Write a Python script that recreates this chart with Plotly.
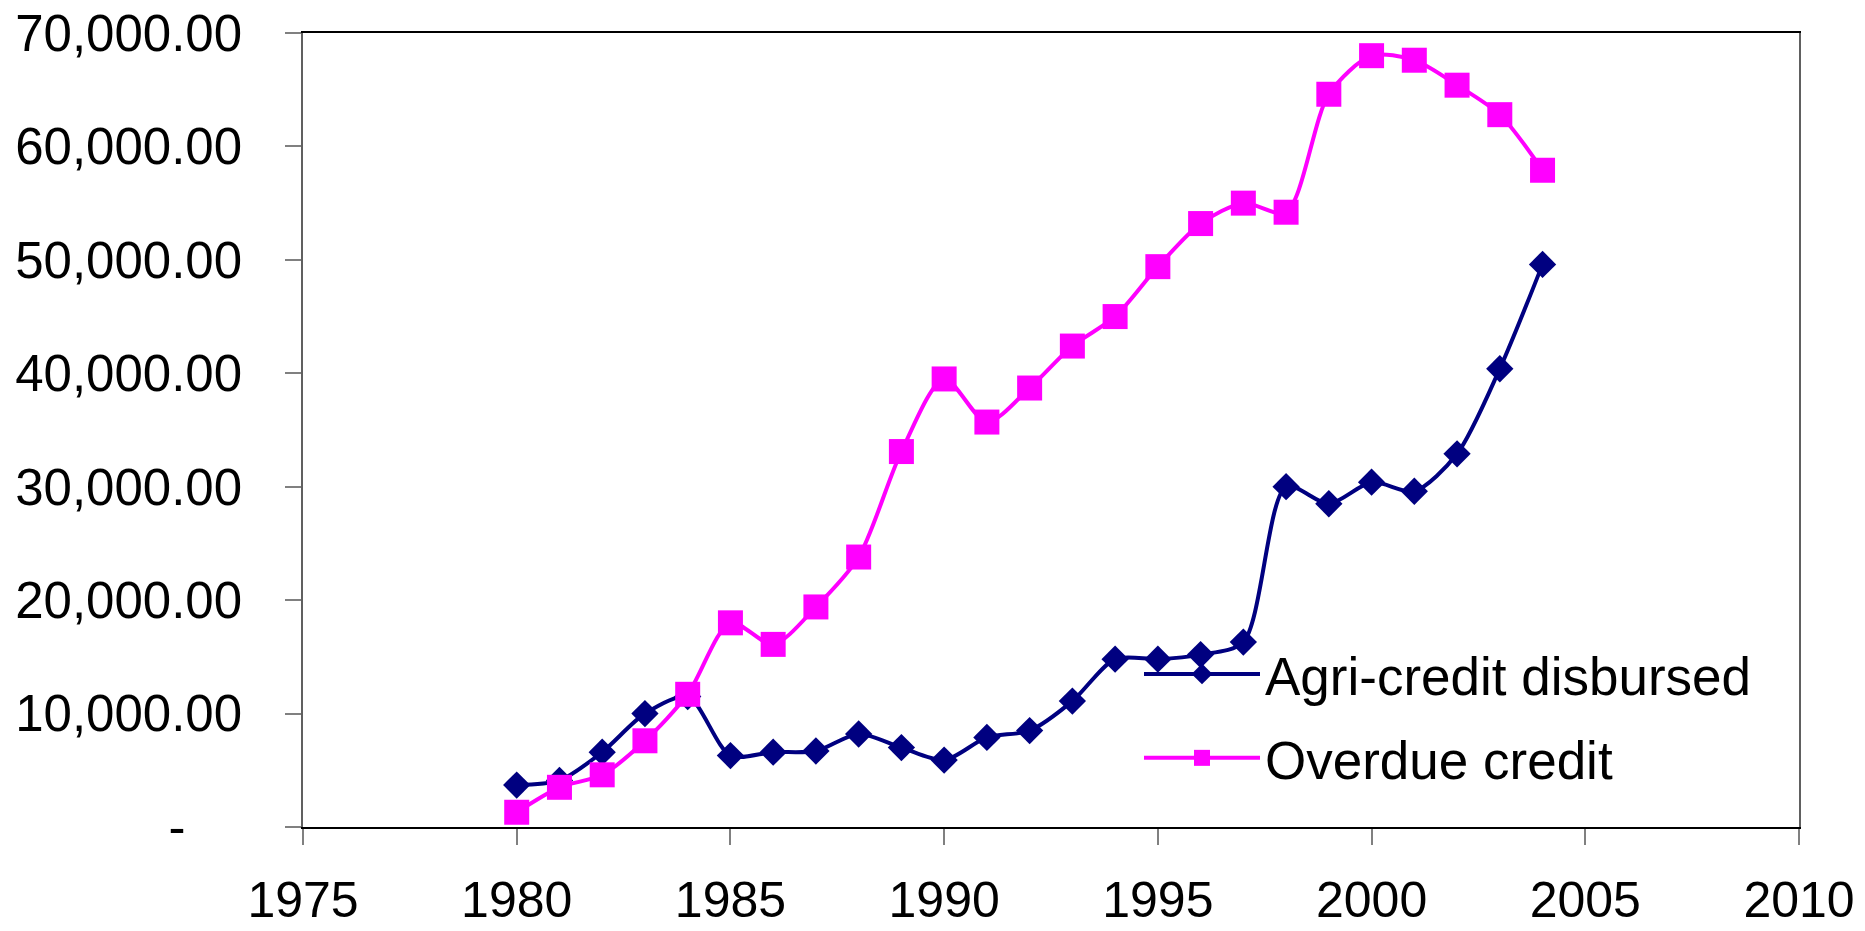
import plotly.graph_objects as go

years = list(range(1980, 2005))
agri_credit = [3700, 4100, 6600, 10000, 11500, 6300, 6600, 6700, 8200, 7000,
               5900, 7900, 8500, 11100, 14800, 14800, 15200, 16300, 30000, 28500,
               30400, 29600, 32900, 40400, 49600]
overdue_credit = [1300, 3500, 4600, 7600, 11700, 18000, 16100, 19400, 23800, 33100,
                  39500, 35700, 38700, 42400, 45000, 49400, 53200, 55000, 54200, 64600,
                  68000, 67600, 65400, 62800, 57900]

y_tickvals = [0, 10000, 20000, 30000, 40000, 50000, 60000, 70000]
y_ticktext = ["-\u00a0\u00a0\u00a0\u00a0", "10,000.00", "20,000.00", "30,000.00",
              "40,000.00", "50,000.00", "60,000.00", "70,000.00"]
x_tickvals = [1975, 1980, 1985, 1990, 1995, 2000, 2005, 2010]

FONT = "Arial, Liberation Sans, sans-serif"

fig = go.Figure()
fig.add_trace(go.Scatter(
    x=years, y=agri_credit, name="Agri-credit disbursed", legendgroup="a",
    mode="lines+markers",
    line=dict(color="#000080", width=4, shape="spline", smoothing=0.8),
    marker=dict(symbol="diamond", size=21, color="#000080"),
))
fig.add_trace(go.Scatter(
    x=years, y=overdue_credit, name="Overdue credit", legendgroup="b",
    mode="lines+markers",
    line=dict(color="#FF00FF", width=4, shape="spline", smoothing=0.8),
    marker=dict(symbol="square", size=25, color="#FF00FF"),
))

# page body has an 8px margin; figure is sized so the plot area lands at
# x 303..1799, y 33..827 in the 1865x931 window
fig.update_layout(
    width=1857, height=923,
    margin=dict(l=295, r=66, t=25, b=104, autoexpand=False),
    paper_bgcolor="white", plot_bgcolor="white",
    font=dict(family=FONT, size=50, color="black"),
    showlegend=True,
    legend=dict(
        x=(1139 - 303) / 1496, y=(827 - 633) / 794, xanchor="left", yanchor="top",
        font=dict(family=FONT, size=53, color="black"),
        bgcolor="rgba(0,0,0,0)", tracegroupgap=12, itemwidth=116,
    ),
    xaxis=dict(
        range=[1975, 2010], tickvals=x_tickvals, ticktext=[str(v) for v in x_tickvals],
        showgrid=False, zeroline=False, automargin=False,
        showline=True, linecolor="black", linewidth=1.5, mirror=True,
        ticks="outside", ticklen=16, tickcolor="#808080", tickwidth=1.5,
        tickfont=dict(family=FONT, size=50, color="black"),
        ticklabelstandoff=12, ticklabeloverflow="allow",
    ),
    yaxis=dict(
        range=[0, 70000], tickvals=y_tickvals, ticktext=y_ticktext,
        showgrid=False, zeroline=False, automargin=False,
        showline=True, linecolor="#606060", linewidth=1.5, mirror=True,
        ticks="outside", ticklen=16, tickcolor="#808080", tickwidth=1.5,
        tickfont=dict(family=FONT, size=51, color="black"),
        ticklabelstandoff=33, ticklabeloverflow="allow",
    ),
)

fig.write_html("out.html")
